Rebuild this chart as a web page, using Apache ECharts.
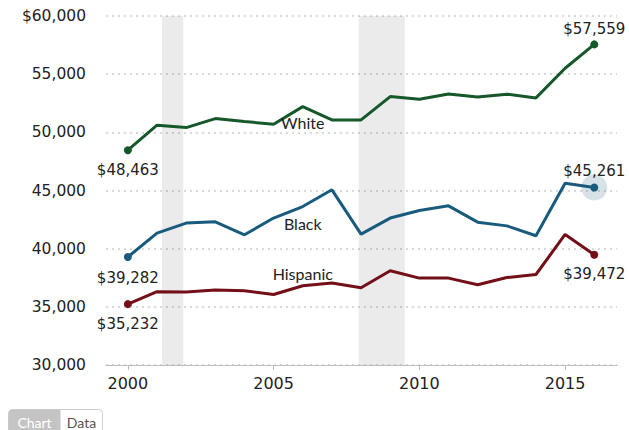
<!DOCTYPE html>
<html>
<head>
<meta charset="utf-8">
<script src="https://cdn.jsdelivr.net/npm/echarts@6/dist/echarts.min.js"></script>
<style>
  html, body { margin: 0; padding: 0; background: #fff; }
  #chart { width: 629px; height: 430px; }
</style>
</head>
<body>
<div id="chart"></div>
<script>
// Median household income by race/ethnicity, 2000–2016
const years = [2000, 2001, 2002, 2003, 2004, 2005, 2006, 2007, 2008, 2009, 2010, 2011, 2012, 2013, 2014, 2015, 2016];
const white = [48463, 50613, 50410, 51180, 50930, 50700, 52210, 51070, 51070, 53070, 52850, 53300, 53040, 53280, 52960, 55510, 57559];
const black = [39282, 41340, 42200, 42310, 41190, 42630, 43620, 45060, 41250, 42630, 43280, 43680, 42280, 41960, 41110, 45630, 45261];
const hispanic = [35232, 36300, 36270, 36440, 36380, 36060, 36810, 37040, 36640, 38100, 37470, 37470, 36900, 37520, 37780, 41220, 39472];

// Recession periods (fractional years)
const recessions = [[2001.17, 2001.9], [2007.92, 2009.5]];

const xTicks = [2000, 2005, 2010, 2015];
const yTicks = [30000, 35000, 40000, 45000, 50000, 55000, 60000];

const NUM_FONT = 'DejaVu Sans';
const TXT_FONT = 'Lato';
const money = v => '$' + v.toLocaleString('en-US');

// Build one line series: endpoints get a dot and a value label,
// one interior point carries the series name.
function lineSeries(name, vals, color, opt) {
  const last = vals.length - 1;
  const data = vals.map((v, i) => {
    const item = { value: [years[i], v] };
    if (i === 0 || i === last) {
      const side = i === 0 ? opt.startSide : opt.endSide;
      const dist = i === 0 ? opt.startDist : opt.endDist;
      item.label = {
        show: true, position: side, distance: dist,
        formatter: money(v),
        fontFamily: NUM_FONT, fontSize: 15, color: '#222'
      };
    } else if (i === opt.nameIdx) {
      item.label = {
        show: true, position: opt.nameSide, distance: opt.nameDist,
        formatter: name,
        fontFamily: TXT_FONT, fontSize: 16, color: '#222'
      };
    }
    return item;
  });
  return {
    name, type: 'line', data, z: 3,
    symbol: 'circle',
    showAllSymbol: true,
    symbolSize: (val, p) => (p.dataIndex === 0 || p.dataIndex === last) ? 8 : 0,
    itemStyle: { color },
    lineStyle: { color, width: 3 },
    label: { show: false },
    emphasis: { disabled: true },
    animation: false
  };
}

const chart = echarts.init(document.getElementById('chart'), null, { renderer: 'svg' });

chart.setOption({
  animation: false,
  grid: { left: 106, right: 12, top: 16, bottom: 65 },
  xAxis: {
    type: 'value',
    min: 1999.25, max: 2016.78,
    axisLine: { show: true, lineStyle: { color: '#bdbdbd', width: 1 } },
    axisTick: { show: true, customValues: xTicks, length: 5, lineStyle: { color: '#bdbdbd' } },
    axisLabel: {
      customValues: xTicks, margin: 10,
      fontFamily: NUM_FONT, fontSize: 16, color: '#222',
      formatter: v => String(v)
    },
    splitLine: { show: false }
  },
  yAxis: {
    type: 'value',
    min: yTicks[0], max: yTicks[yTicks.length - 1], interval: 5000,
    axisLine: { show: false },
    axisTick: { show: false },
    axisLabel: {
      margin: 20,
      fontFamily: NUM_FONT, fontSize: 15.5, color: '#222',
      formatter: v => (v === yTicks[yTicks.length - 1] ? '$' : '') + v.toLocaleString('en-US')
    },
    splitLine: { show: true, lineStyle: { color: '#d9d9d9', width: 2, type: [2, 4] } }
  },
  series: [
    {
      name: 'recessions', type: 'line', data: [], z: 1,
      markArea: {
        silent: true,
        itemStyle: { color: 'rgba(0,0,0,0.08)' },
        data: recessions.map(r => [{ xAxis: r[0] }, { xAxis: r[1] }])
      }
    },
    {
      name: 'highlight', type: 'scatter', z: 2,
      data: [[years[years.length - 1], black[black.length - 1]]],
      symbolSize: 26,
      itemStyle: { color: 'rgba(23,93,126,0.22)' },
      emphasis: { disabled: true },
      silent: true
    },
    lineSeries('White', white, '#15582a',
      { startSide: 'bottom', startDist: 8, endSide: 'top', endDist: 4, nameIdx: 6, nameSide: 'bottom', nameDist: 8 }),
    lineSeries('Black', black, '#185b7c',
      { startSide: 'bottom', startDist: 9, endSide: 'top', endDist: 5, nameIdx: 6, nameSide: 'bottom', nameDist: 9 }),
    lineSeries('Hispanic', hispanic, '#730f16',
      { startSide: 'bottom', startDist: 8, endSide: 'bottom', endDist: 8, nameIdx: 6, nameSide: 'top', nameDist: 4 })
  ],
  graphic: [
    // Chart / Data toggle
    {
      type: 'group', left: 8, top: 409,
      children: [
        { type: 'rect', shape: { x: 0, y: 0, width: 94, height: 26, r: 4 },
          style: { fill: '#fff', stroke: '#cfcfcf', lineWidth: 1 } },
        { type: 'rect', shape: { x: 0, y: 0, width: 52, height: 26, r: [4, 0, 0, 4] },
          style: { fill: '#c4c4c4' } },
        { type: 'text', x: 26, y: 13,
          style: { text: 'Chart', fill: '#fff', font: '14px Lato', align: 'center', verticalAlign: 'middle' } },
        { type: 'text', x: 73, y: 13,
          style: { text: 'Data', fill: '#555', font: '14px Lato', align: 'center', verticalAlign: 'middle' } }
      ]
    }
  ]
});
</script>
</body>
</html>
